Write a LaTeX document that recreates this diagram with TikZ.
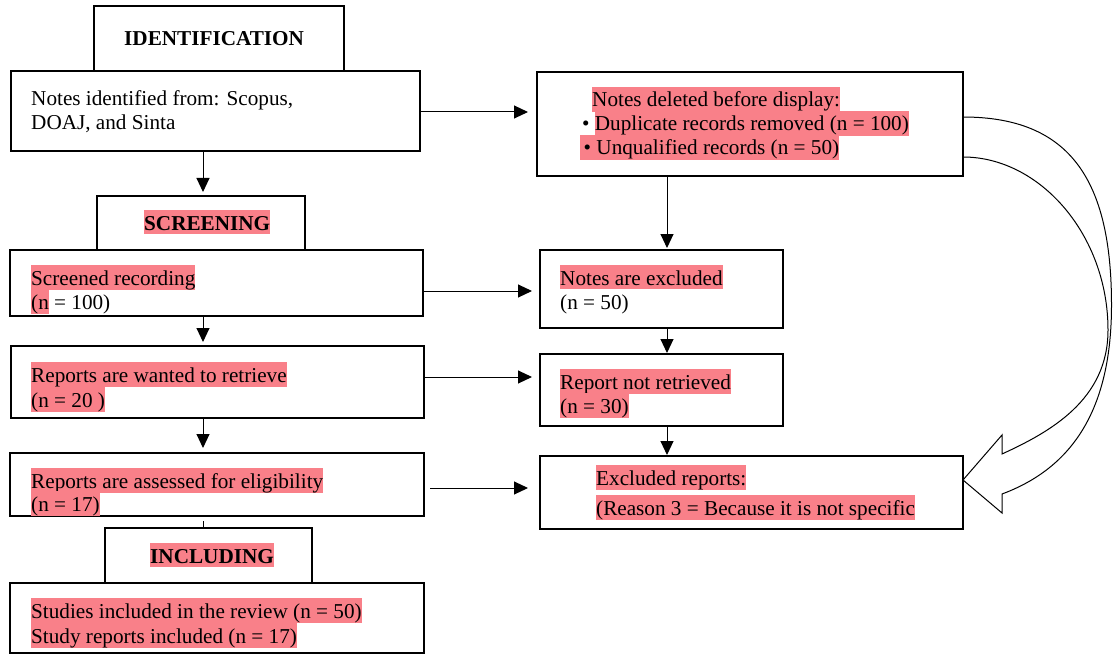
\documentclass[tikz,border=0pt]{standalone}
\usepackage{fontspec}
\setmainfont{Liberation Serif}
\usetikzlibrary{arrows.meta,calc}
\definecolor{hlpink}{RGB}{249,128,137}
\newcommand\hlt[1]{{\setlength{\fboxsep}{0pt}\colorbox{hlpink}{\rule[-3.5pt]{0pt}{23.5pt}#1}}}
\begin{document}
\begin{tikzpicture}[x=1pt,y=-1pt,
  box/.style={draw,line width=1.7pt,inner sep=0pt,outer sep=0pt,anchor=north west},
  txt/.style={inner sep=0pt,anchor=base west,font=\fontsize{21.2}{24}\selectfont},
  hd/.style={inner sep=0pt,anchor=base west,font=\fontsize{21.2}{24}\selectfont\bfseries},
  arr/.style={line width=1pt,-{Triangle[length=14pt,width=13pt]}},
  conn/.style={line width=1pt}]
\useasboundingbox (0,0) rectangle (1113,655);

% boxes
\node[box,minimum width=250pt,minimum height=65pt] (hid) at (94,6) {};
\node[box,minimum width=409pt,minimum height=80pt] (nid) at (11,71) {};
\node[box,minimum width=208pt,minimum height=54pt] (hscr) at (97,196) {};
\node[box,minimum width=413pt,minimum height=66pt] (scr) at (10,250) {};
\node[box,minimum width=413pt,minimum height=72pt] (rw) at (11,346) {};
\node[box,minimum width=414pt,minimum height=63pt] (ra) at (10,453) {};
\node[box,minimum width=207pt,minimum height=55pt] (hinc) at (105,528) {};
\node[box,minimum width=414pt,minimum height=70pt] (inc) at (10,583) {};
\node[box,minimum width=426pt,minimum height=104pt] (del) at (537,72) {};
\node[box,minimum width=243pt,minimum height=78pt] (nex) at (540,250) {};
\node[box,minimum width=243pt,minimum height=72pt] (nrt) at (540,354) {};
\node[box,minimum width=423pt,minimum height=73pt] (exr) at (540,456) {};

% texts
\node[hd] (thid) at (124,46) {IDENTIFICATION};
\node[txt] (tnid1) at (31,106) {Notes identified from: Scopus,};
\node[txt] (tnid2) at (31,130) {DOAJ, and Sinta};
\node[hd] (thscr) at (144,230) {\hlt{SCREENING}};
\node[txt] (tscr1) at (31,285) {\hlt{Screened recording}};
\node[txt] (tscr2) at (31,309) {\hlt{(n}\ = 100)};
\node[txt] (trw1) at (31,382) {\hlt{Reports are wanted to retrieve}};
\node[txt] (trw2) at (31,407) {\hlt{(n = 20 )}};
\node[txt] (tra1) at (31,488) {\hlt{Reports are assessed for eligibility}};
\node[txt] (tra2) at (31,511) {\hlt{(n = 17)}};
\node[hd] (thinc) at (150,563) {\hlt{INCLUDING}};
\node[txt] (tinc1) at (31,618) {\hlt{Studies included in the review (n = 50)}};
\node[txt] (tinc2) at (31,643) {\hlt{Study reports included (n = 17)}};
\node[txt] (tdel1) at (592,107) {\hlt{Notes deleted before display:}};
\node[txt] (tdel2) at (582,131) {\textbullet\ \hlt{Duplicate records removed (n = 100)}};
\node[txt] (tdel3) at (580,155) {\hlt{\,\textbullet\ Unqualified records (n = 50)}};
\node[txt] (tnex1) at (560,285) {\hlt{Notes are excluded}};
\node[txt] (tnex2) at (560,309) {(n = 50)};
\node[txt] (tnrt1) at (560,389) {\hlt{Report not retrieved}};
\node[txt] (tnrt2) at (560,413) {\hlt{(n = 30)}};
\node[txt] (texr1) at (596,485) {\hlt{Excluded reports:}};
\node[txt] (texr2) at (596,515) {\hlt{(Reason 3 = Because it is not specific}};

% helper coordinates
\coordinate (xl) at (203,0);
\coordinate (xr) at (667,0);
\coordinate (y1) at (0,112);
\coordinate (y2) at (0,291);
\coordinate (y3) at (0,377);
\coordinate (y4) at (0,488);
\coordinate (tk) at (203,521);

% vertical arrows
\draw[arr,shorten >=4pt] (nid.south -| xl) -- (hscr.north -| xl);
\draw[arr,shorten >=4pt] (scr.south -| xl) -- (rw.north -| xl);
\draw[arr,shorten >=5pt] (rw.south -| xl) -- (ra.north -| xl);
\draw[conn] (tk) -- (hinc.north -| tk);
\draw[arr,shorten >=2pt] (del.south -| xr) -- (nex.north -| xr);
\draw[arr,shorten >=1pt] (nex.south -| xr) -- (nrt.north -| xr);
\draw[arr,shorten >=1pt] (nrt.south -| xr) -- (exr.north -| xr);

% horizontal arrows
\draw[arr,shorten >=9pt] (nid.east |- y1) -- (del.west |- y1);
\draw[arr,shorten >=8pt] (scr.east |- y2) -- (nex.west |- y2);
\draw[arr,shorten >=8pt] (rw.east |- y3) -- (nrt.west |- y3);
\draw[arr,shorten <=6pt,shorten >=12pt] (ra.east |- y4) -- (exr.west |- y4);

% curved block arrow
\draw[line width=1pt,line join=miter]
  (963,117) .. controls (1070,117) and (1111.5,180) .. (1111.5,305)
  .. controls (1111.5,410) and (1072,468) .. (1002,494)
  -- (1002,513) -- (963,480) -- (1002,435) -- (1002,454)
  .. controls (1050,432) and (1108,400) .. (1108,330)
  .. controls (1108,235) and (1040,157) .. (963,157);
\end{tikzpicture}
\end{document}
